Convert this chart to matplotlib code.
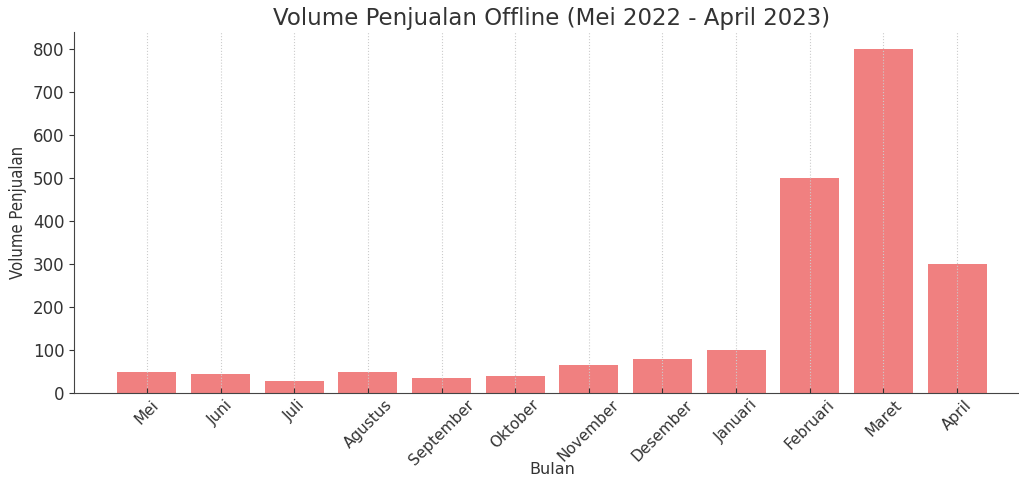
import matplotlib
matplotlib.use("Agg")
import numpy as np
from matplotlib import pyplot as plt

bulan = ["Mei", "Juni", "Juli", "Agustus", "September", "Oktober",
         "November", "Desember", "Januari", "Februari", "Maret", "April"]
volume = [50, 45, 29, 48, 34, 40, 65, 80, 100, 500, 800, 300]

plt.rcParams["font.family"] = ["DejaVu Sans"]
text_color = "#333333"

fig = plt.figure(figsize = (10.19, 4.78), dpi = 100)
ax = fig.add_axes([74 / 1019, 85 / 478, 956 / 1019, 361 / 478])

x = np.arange(len(bulan))
ax.bar(x, volume, width = 0.8, color = "lightcoral")

ax.set_title("Volume Penjualan Offline (Mei 2022 - April 2023)",
             fontsize = 16.5, color = text_color, pad = 5)
ax.set_xlabel("Bulan", fontsize = 11.5, color = text_color)
ax.xaxis.set_label_coords(0.5, -0.19)
ax.set_ylabel("Volume Penjualan", fontsize = 12, color = text_color,
              fontstretch = "condensed")

ax.set_xticks(x)
ax.set_xticklabels(bulan, rotation = 45, ha = "center")
ax.tick_params(axis = "x", direction = "in", length = 3.5, labelsize = 11,
               colors = text_color, pad = 3)
ax.tick_params(axis = "y", labelsize = 12, colors = text_color)
ax.set_yticks(range(0, 900, 100))

ax.grid(axis = "x", linestyle = ":", linewidth = 0.8, color = "#cccccc")
for side in ["top", "right"]:
    ax.spines[side].set_visible(False)
for side in ["left", "bottom"]:
    ax.spines[side].set_color("#444444")

fig.savefig("out.png", dpi = 100)
